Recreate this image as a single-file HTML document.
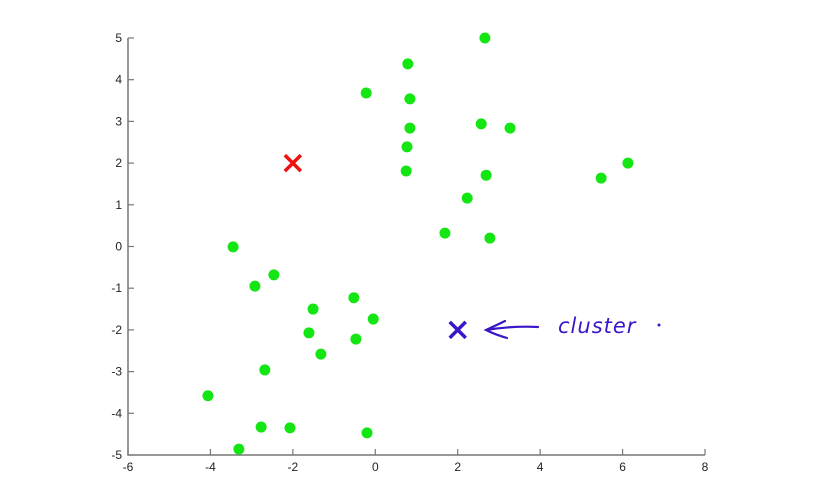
<!DOCTYPE html>
<html><head><meta charset="utf-8"><style>
html,body{margin:0;padding:0;background:#fff;}
svg{display:block;font-family:"Liberation Sans",sans-serif;}
</style></head><body>
<svg id="chart" width="824" height="495"></svg>
<script>
const xTicks=[-6,-4,-2,0,2,4,6,8];
const yTicks=[-5,-4,-3,-2,-1,0,1,2,3,4,5];
const ptsX=[2.66,0.79,-0.22,0.84,2.57,3.27,0.84,0.77,0.75,2.69,6.13,5.48,2.23,1.69,2.78,-3.45,-2.46,-2.92,-1.51,-0.52,-1.61,-0.05,-0.47,-1.32,-2.68,-4.06,-2.77,-2.07,-0.2,-3.31];
const ptsY=[5.0,4.38,3.68,3.54,2.94,2.84,2.84,2.39,1.81,1.71,2.0,1.64,1.16,0.32,0.2,-0.01,-0.68,-0.95,-1.5,-1.23,-2.07,-1.74,-2.22,-2.58,-2.96,-3.58,-4.33,-4.35,-4.47,-4.86];
const centX=[-2,2];
const centY=[2,-2];
const centColors=['#f01010','#3a16c8'];
const NS='http://www.w3.org/2000/svg';
const svg=document.getElementById('chart');
const L=128,R=705,T=38,B=455;
const sx=v=>L+(v+6)/14*(R-L);
const sy=v=>B-(v+5)/10*(B-T);
function mk(t,a){const e=document.createElementNS(NS,t);for(const k in a)e.setAttribute(k,a[k]);svg.appendChild(e);return e;}
let ax=mk('path',{d:`M${L},${T} V${B} H${R}`,stroke:'#777',fill:'none','stroke-width':1.5});


xTicks.forEach(v=>{
 let t=mk('line',{x1:sx(v),x2:sx(v),y1:B,y2:B-6,stroke:'#777','stroke-width':1.2});
 
 
 let l=mk('text',{x:sx(v),y:B+16,'text-anchor':'middle','font-size':12,fill:'#222'});
 l.textContent=v;
 
 
});
yTicks.forEach(v=>{
 let t=mk('line',{x1:L,x2:L+6,y1:sy(v),y2:sy(v),stroke:'#777','stroke-width':1.2});
 
 
 let l=mk('text',{x:L-6,y:sy(v)+4,'text-anchor':'end','font-size':12,fill:'#222'});
 l.textContent=v;
 
 
});
ptsX.forEach((x,i)=>{
 let c=mk('ellipse',{cx:sx(x),cy:sy(ptsY[i]),rx:5.5,ry:5.5,fill:'#14e614'});
 
 
});
centX.forEach((x,i)=>{
 const cx=sx(x),cy=sy(centY[i]),s=8;
 let p=mk('path',{d:`M${cx-s},${cy-s} L${cx+s},${cy+s} M${cx+s},${cy-s} L${cx-s},${cy+s}`,stroke:centColors[i],'stroke-width':3.5,fill:'none'});
 
 
});
let ar=mk('path',{d:'M538,327 C520,326 505,327 486,330 M505,321 C497,325 490,328 486,330 C492,333 500,336 507,338',stroke:'#3a16c8','stroke-width':2.2,fill:'none','stroke-linecap':'round'});


let tx=mk('text',{x:558,y:333,'font-size':21,fill:'#3a16c8','font-style':'italic','font-family':'"DejaVu Sans",sans-serif','letter-spacing':'1'});
tx.textContent='cluster';


let dot=mk('circle',{cx:659,cy:325,r:1.5,fill:'#3a16c8'});


</script>
</body></html>
